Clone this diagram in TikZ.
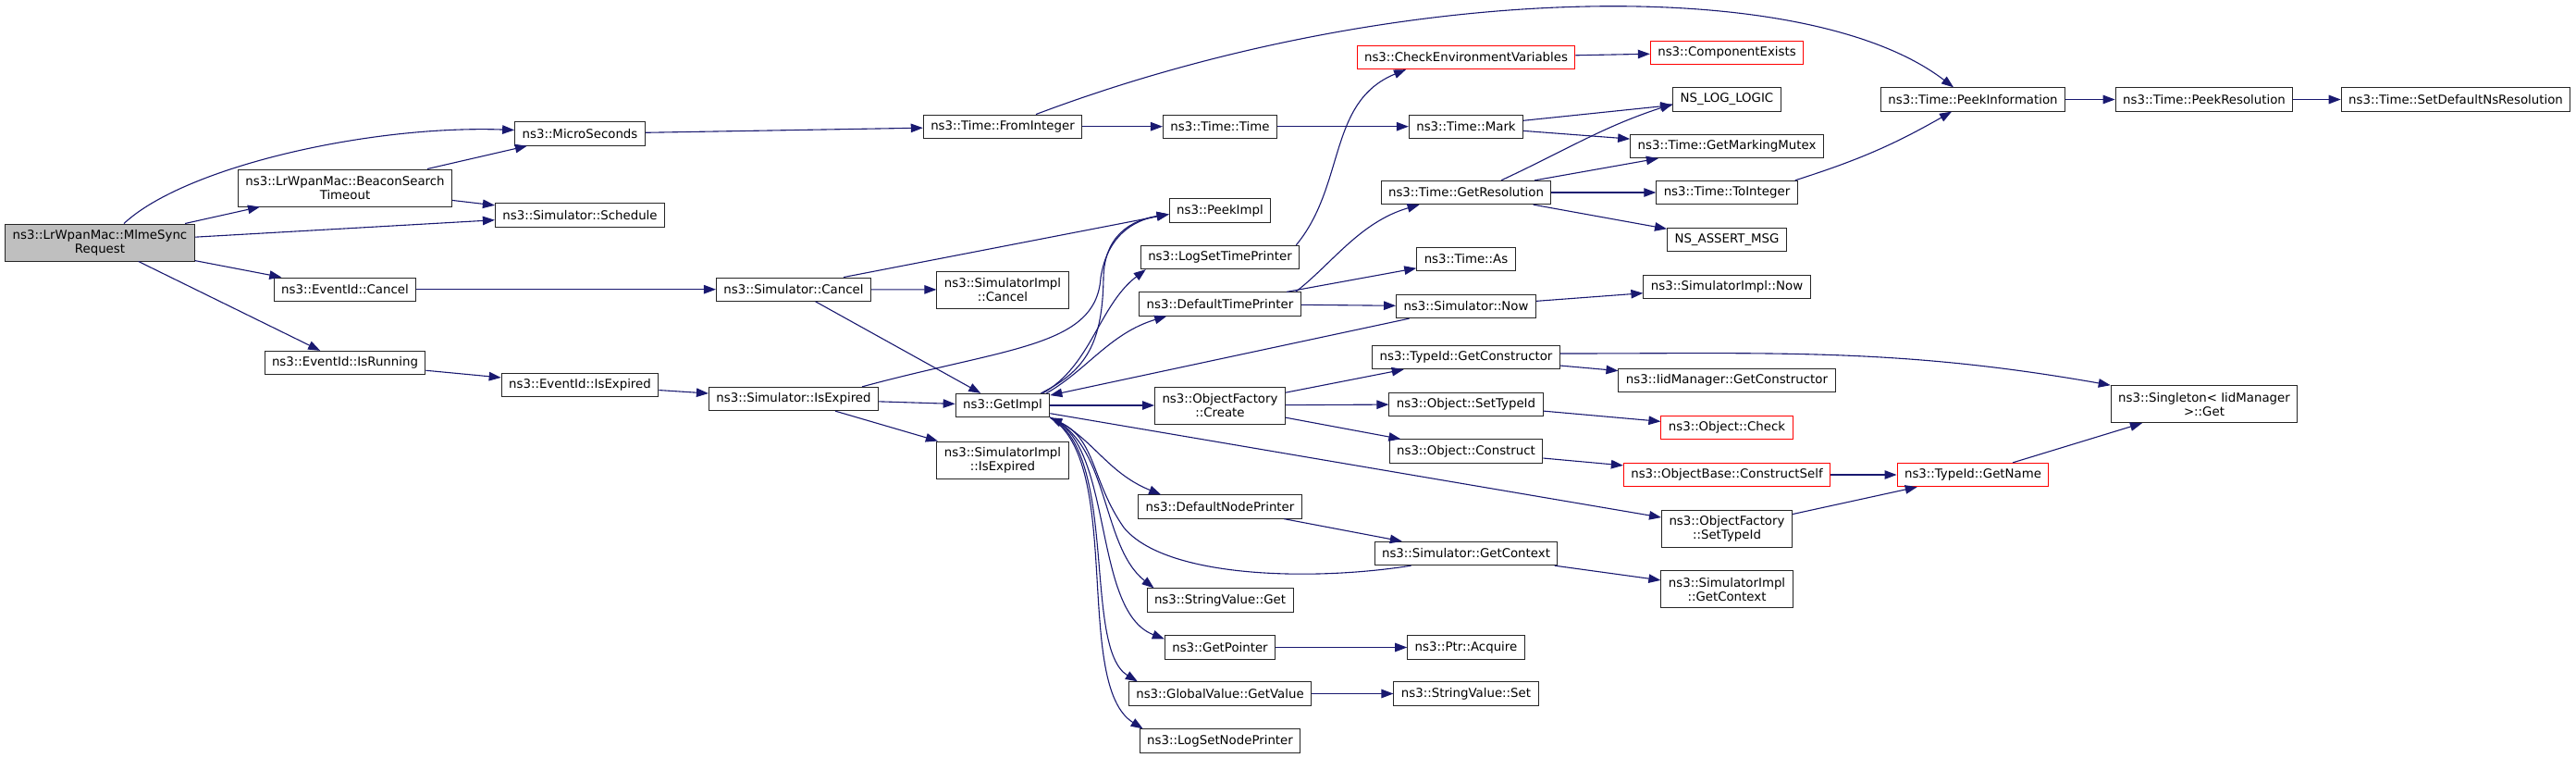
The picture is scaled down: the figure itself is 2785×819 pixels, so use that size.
\documentclass[tikz,border=0pt]{standalone}
\usepackage{fontspec}
\usepackage{xcolor}
\usepackage{tikz}
\usetikzlibrary{arrows.meta}
\newfontfamily\dotfont{DejaVu Sans}
\definecolor{callblue} {RGB}{25,25,112}
\definecolor{rootgray} {RGB}{191,191,191}
\definecolor{truncred} {RGB}{255,0,0}
\tikzset{
  fnbox/.style ={draw=black!85, line width=1pt, fill=white, align=center,
                 minimum height=25.3pt, inner xsep=8pt, inner ysep=0pt,
                 font=\dotfont\fontsize{13.33}{14.7}\selectfont},
  fnbox2/.style={fnbox, minimum height=40pt},
  rootbox/.style={fnbox2, fill=rootgray},
  redbox/.style ={fnbox, draw=truncred},
  arr/.style    ={-{Triangle[length=13pt,width=9.5pt]}, draw=callblue,
                  line width=1.1pt},
}
\begin{document}
\begin{tikzpicture}[x=1pt, y=-1pt]
  \useasboundingbox (0,0) rectangle (2785,819);

  \node[rootbox] (mlme) at (108,262) {ns3::LrWpanMac::MlmeSync\\Request};

  \node[fnbox2] (beacon)    at (373,203)   {ns3::LrWpanMac::BeaconSearch\\Timeout};
  \node[fnbox]  (evcancel)  at (373,312.7) {ns3::EventId::Cancel};
  \node[fnbox]  (isrunning) at (373,392)   {ns3::EventId::IsRunning};

  \node[fnbox] (micro)     at (627,144.5) {ns3::MicroSeconds};
  \node[fnbox] (schedule)  at (627,232.5) {ns3::Simulator::Schedule};
  \node[fnbox] (evexpired) at (627,416)   {ns3::EventId::IsExpired};

  \node[fnbox] (simcancel)  at (858,312.7) {ns3::Simulator::Cancel};
  \node[fnbox] (simexpired) at (858,431)   {ns3::Simulator::IsExpired};

  \node[fnbox]  (fromint)     at (1084,136.7) {ns3::Time::FromInteger};
  \node[fnbox2] (implcancel)  at (1084,313)   {ns3::SimulatorImpl\\::Cancel};
  \node[fnbox]  (getimpl)     at (1084,438)   {ns3::GetImpl};
  \node[fnbox2] (implexpired) at (1084,497)   {ns3::SimulatorImpl\\::IsExpired};

  \node[fnbox]  (timetime) at (1319,136.7) {ns3::Time::Time};
  \node[fnbox]  (peekimpl) at (1319,227.5) {ns3::PeekImpl};
  \node[fnbox]  (logtime)  at (1319,278)   {ns3::LogSetTimePrinter};
  \node[fnbox]  (deftime)  at (1319,328.5) {ns3::DefaultTimePrinter};
  \node[fnbox2] (ofcreate) at (1319,438)   {ns3::ObjectFactory\\::Create};
  \node[fnbox]  (defnode)  at (1319,547.5) {ns3::DefaultNodePrinter};
  \node[fnbox]  (strget)   at (1319,648.5) {ns3::StringValue::Get};
  \node[fnbox]  (getptr)   at (1319,699.5) {ns3::GetPointer};
  \node[fnbox]  (gvget)    at (1319,749.5) {ns3::GlobalValue::GetValue};
  \node[fnbox]  (lognode)  at (1319,800.5) {ns3::LogSetNodePrinter};

  \node[redbox] (checkenv)  at (1585,62)    {ns3::CheckEnvironmentVariables};
  \node[fnbox]  (mark)      at (1585,136.7) {ns3::Time::Mark};
  \node[fnbox]  (getres)    at (1585,208)   {ns3::Time::GetResolution};
  \node[fnbox]  (timeas)    at (1585,280)   {ns3::Time::As};
  \node[fnbox]  (simnow)    at (1585,331)   {ns3::Simulator::Now};
  \node[fnbox]  (tidctor)   at (1585,386)   {ns3::TypeId::GetConstructor};
  \node[fnbox]  (objsettid) at (1585,436.7) {ns3::Object::SetTypeId};
  \node[fnbox]  (objconstr) at (1585,487.5) {ns3::Object::Construct};
  \node[fnbox]  (simctx)    at (1585,598)   {ns3::Simulator::GetContext};
  \node[fnbox]  (ptracq)    at (1585,699.5) {ns3::Ptr::Acquire};
  \node[fnbox]  (strset)    at (1585,749.5) {ns3::StringValue::Set};

  \node[redbox] (compexists) at (1867,56.7)  {ns3::ComponentExists};
  \node[fnbox]  (nslog)      at (1867,107.5) {NS\_LOG\_LOGIC};
  \node[fnbox]  (mutex)      at (1867,158)   {ns3::Time::GetMarkingMutex};
  \node[fnbox]  (toint)      at (1867,208)   {ns3::Time::ToInteger};
  \node[fnbox]  (assertmsg)  at (1867,259)   {NS\_ASSERT\_MSG};
  \node[fnbox]  (implnow)    at (1867,310)   {ns3::SimulatorImpl::Now};
  \node[fnbox]  (iidctor)    at (1867,411)   {ns3::IidManager::GetConstructor};
  \node[redbox] (objcheck)   at (1867,461.7) {ns3::Object::Check};
  \node[redbox] (cself)      at (1867,513)   {ns3::ObjectBase::ConstructSelf};
  \node[fnbox2] (ofsettid)   at (1867,571)   {ns3::ObjectFactory\\::SetTypeId};
  \node[fnbox2] (implctx)    at (1867,636.7) {ns3::SimulatorImpl\\::GetContext};

  \node[fnbox]  (peekinfo) at (2133,107.5) {ns3::Time::PeekInformation};
  \node[redbox] (getname)  at (2133,513)   {ns3::TypeId::GetName};

  \node[fnbox]  (peekres)   at (2383,107.5) {ns3::Time::PeekResolution};
  \node[fnbox2] (singleton) at (2383,436.7) {ns3::Singleton< IidManager\\>::Get};

  \node[fnbox]  (setdefres) at (2655,107.5) {ns3::Time::SetDefaultNsResolution};

  \draw[arr]([xshift=26pt]mlme.north) .. controls (200,180) and (400,135) .. ([yshift=4pt]micro.west);
  \draw[arr](mlme)--(beacon);\draw[arr](mlme)--(schedule);
  \draw[arr](mlme)--(evcancel);\draw[arr](mlme)--(isrunning);
  \draw[arr](beacon)--(micro);\draw[arr](beacon)--(schedule);
  \draw[arr](micro)--(fromint);\draw[arr](evcancel)--(simcancel);
  \draw[arr](isrunning)--(evexpired);\draw[arr](evexpired)--(simexpired);
  \draw[arr](simcancel)--(implcancel);\draw[arr](simcancel)--(getimpl);
  \draw[arr]([xshift=54pt]simcancel.north)--([yshift=-4pt]peekimpl.west);
  \draw[arr](simexpired)--(getimpl);\draw[arr](simexpired)--(implexpired);

  \draw[arr]([xshift=-18pt]simexpired.north east) .. controls (1090,375) and (1185,375) .. (1190,300)
            .. controls (1197,255) and (1225,238) .. ([yshift=-4pt]peekimpl.west);
  \draw[arr]([xshift=-10pt]getimpl.north east) .. controls (1175,400) and (1192,370) .. (1193,300)
            .. controls (1194,255) and (1222,238) .. ([yshift=-4pt]peekimpl.west);
  \draw[arr]([xshift=-8pt]getimpl.north east) .. controls (1180,395) and (1188,330) .. ([xshift=6pt]logtime.south west);
  \draw[arr]([xshift=-4pt]getimpl.north east) .. controls (1175,400) and (1200,360) .. ([xshift=30pt]deftime.south west);
  \draw[arr](simnow)--(getimpl);
  \draw[arr]([xshift=40pt]simctx.south west) .. controls (1420,628) and (1260,625) .. (1215,570)
            .. controls (1180,520) and (1185,475) .. (getimpl.south east);
  \draw[arr](getimpl)--(ofcreate);\draw[arr](getimpl)--(ofsettid);
  \draw[arr](getimpl.south east) .. controls (1180,470) and (1195,510) .. ([xshift=25pt]defnode.north west);
  \draw[arr](getimpl.south east) .. controls (1200,480) and (1190,590) .. ([xshift=8pt]strget.north west);
  \draw[arr](getimpl.south east) .. controls (1205,480) and (1180,660) .. ([yshift=-4pt]getptr.north west);
  \draw[arr](getimpl.south east) .. controls (1210,490) and (1170,700) .. ([xshift=10pt]gvget.north west);
  \draw[arr](getimpl.south east) .. controls (1215,500) and (1160,740) .. ([xshift=4pt]lognode.north west);

  \draw[arr](fromint)--(timetime);\draw[arr](timetime)--(mark);
  \draw[arr]([xshift=36pt]fromint.north) .. controls (1500,-20) and (1950,-30) .. ([xshift=-21pt]peekinfo.north);
  \draw[arr](mark)--(nslog);\draw[arr](mark)--(mutex);
  \draw[arr]([xshift=38pt]getres.north) to[out=25,in=198] ([yshift=-5pt]nslog.west);
  \draw[arr](getres)--(mutex);\draw[arr](getres)--(toint);\draw[arr](getres)--(assertmsg);
  \draw[arr]([xshift=-3pt]toint.north east) to[bend right=6] ([xshift=-23pt]peekinfo.south);
  \draw[arr](checkenv)--(compexists);
  \draw[arr]([xshift=-4pt]logtime.north east) .. controls (1455,200) and (1435,110) .. ([xshift=-65pt]checkenv.south);
  \draw[arr]([xshift=-6pt]deftime.north east) .. controls (1440,285) and (1470,240) .. ([xshift=42pt]getres.south west);
  \draw[arr](deftime)--(timeas);\draw[arr](deftime)--(simnow);
  \draw[arr](simnow)--(implnow);

  \draw[arr](ofcreate)--(tidctor);\draw[arr](ofcreate)--(objsettid);\draw[arr](ofcreate)--(objconstr);
  \draw[arr](tidctor)--(iidctor);
  \draw[arr]([yshift=4pt]tidctor.east) to[out=0,in=170] (singleton.north west);
  \draw[arr](objsettid)--(objcheck);\draw[arr](objconstr)--(cself);
  \draw[arr](cself)--(getname);\draw[arr](ofsettid)--(getname);\draw[arr](getname)--(singleton);
  \draw[arr](simctx)--(implctx);\draw[arr](defnode)--(simctx);
  \draw[arr](getptr)--(ptracq);\draw[arr](gvget)--(strset);
  \draw[arr](peekinfo)--(peekres);\draw[arr](peekres)--(setdefres);
\end{tikzpicture}
\end{document}
